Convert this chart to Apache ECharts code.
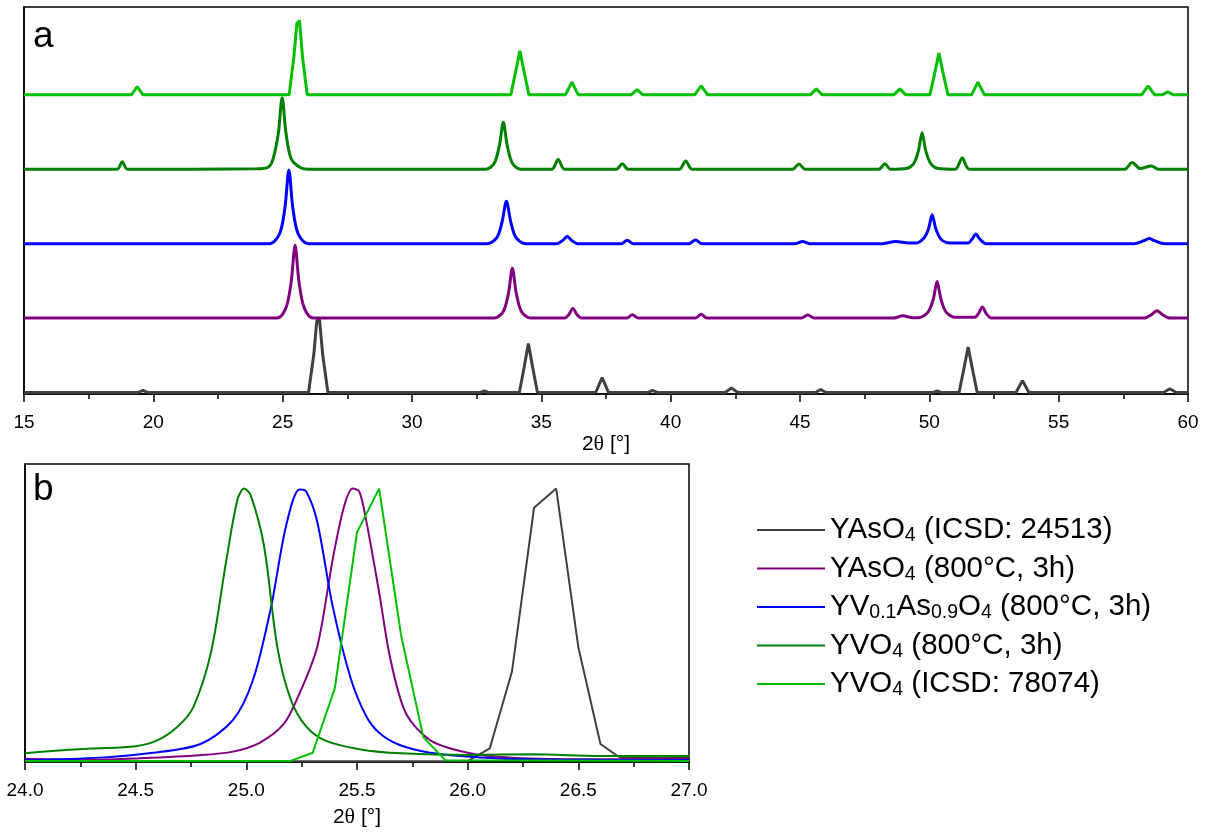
<!DOCTYPE html>
<html><head><meta charset="utf-8">
<script src="https://cdn.jsdelivr.net/npm/echarts@6/dist/echarts.min.js"></script>
<style>html,body{margin:0;padding:0;background:#fff}#c{width:1208px;height:834px}</style>
</head><body><div id="c"></div>
<script>
// ---- names / colours ----
const seriesNames = ['YAsO4 (ICSD: 24513)', 'YAsO4 (800°C, 3h)', 'YV0.1As0.9O4 (800°C, 3h)', 'YVO4 (800°C, 3h)', 'YVO4 (ICSD: 78074)'];
const legendRich = [
  '{n|YAsO}{s|4}{n| (ICSD: 24513)}',
  '{n|YAsO}{s|4}{n| (800°C, 3h)}',
  '{n|YV}{s|0.1}{n|As}{s|0.9}{n|O}{s|4}{n| (800°C, 3h)}',
  '{n|YVO}{s|4}{n| (800°C, 3h)}',
  '{n|YVO}{s|4}{n| (ICSD: 78074)}'
];
const colors = ['#404040', '#800080', '#0000ff', '#008000', '#00c000'];
const measured = [false, true, true, true, false];
const offsets = [0, 1, 2, 3, 4];
const ticksA = [15, 20, 25, 30, 35, 40, 45, 50, 55, 60];
const ticksB = [24.0, 24.5, 25.0, 25.5, 26.0, 26.5, 27.0];

// ---- panel a: normalised patterns (2θ, intensity) ----
const yasRefA = [[15,0.02],[19.4,0.02],[19.6,0.05],[19.8,0.02],
 [26.0,0.02],[26.2,0.52],[26.32,0.98],[26.42,1.02],[26.55,0.52],[26.75,0.02],
 [32.65,0.02],[32.8,0.04],[32.95,0.02],
 [34.15,0.02],[34.33,0.35],[34.5,0.68],[34.67,0.35],[34.85,0.02],
 [37.1,0.02],[37.35,0.22],[37.6,0.02],
 [39.1,0.02],[39.3,0.05],[39.5,0.02],
 [42.1,0.02],[42.35,0.08],[42.6,0.02],
 [45.6,0.02],[45.8,0.06],[46.0,0.02],
 [50.15,0.02],[50.3,0.04],[50.45,0.02],
 [51.15,0.02],[51.33,0.33],[51.5,0.63],[51.67,0.33],[51.85,0.02],
 [53.35,0.02],[53.6,0.18],[53.85,0.02],
 [59.05,0.02],[59.3,0.07],[59.55,0.02],[60,0.02]];
const yas800A = [[15,0.02],[24.78,0.02],[25.13,0.16],[25.33,0.51],[25.48,1.0],[25.63,0.51],[25.83,0.16],[26.18,0.02],
 [33.18,0.02],[33.53,0.11],[33.73,0.355],[33.88,0.69],[34.03,0.355],[34.23,0.11],[34.58,0.02],
 [35.9,0.02],[36.05,0.06],[36.22,0.15],[36.39,0.06],[36.55,0.02],
 [38.3,0.02],[38.52,0.065],[38.75,0.02],
 [40.95,0.02],[41.18,0.07],[41.4,0.02],
 [45.05,0.02],[45.3,0.06],[45.55,0.02],
 [48.6,0.02],[48.97,0.05],[49.35,0.025],
 [49.6,0.025],[49.95,0.1],[50.15,0.27],[50.3,0.51],[50.45,0.27],[50.65,0.1],[51.0,0.03],
 [51.75,0.03],[51.9,0.08],[52.05,0.17],[52.2,0.08],[52.4,0.02],
 [58.3,0.02],[58.6,0.07],[58.8,0.12],[59.0,0.07],[59.3,0.02],[60,0.02]];
const yvasA = [[15,0.02],[24.5,0.02],[24.89,0.16],[25.09,0.51],[25.24,1.01],[25.39,0.51],[25.59,0.16],[25.98,0.02],
 [32.9,0.02],[33.28,0.1],[33.48,0.31],[33.65,0.59],[33.82,0.31],[34.02,0.1],[34.4,0.02],
 [35.6,0.02],[35.85,0.07],[36.0,0.12],[36.15,0.07],[36.4,0.02],
 [38.1,0.02],[38.32,0.065],[38.55,0.02],
 [40.7,0.02],[40.96,0.07],[41.2,0.02],
 [44.8,0.02],[45.1,0.05],[45.4,0.02],
 [48.2,0.02],[48.7,0.05],[49.2,0.03],
 [49.5,0.03],[49.8,0.1],[49.97,0.22],[50.11,0.41],[50.25,0.22],[50.45,0.08],[50.8,0.03],
 [51.5,0.03],[51.65,0.08],[51.8,0.15],[51.95,0.08],[52.2,0.02],
 [57.9,0.02],[58.3,0.06],[58.5,0.09],[58.7,0.06],[59.1,0.02],[60,0.02]];
const yvo800A = [[15,0.02],[18.6,0.02],[18.8,0.12],[19.0,0.02],
 [24.0,0.025],[24.45,0.05],[24.63,0.16],[24.83,0.5],[24.98,0.98],[25.13,0.5],[25.33,0.16],[25.7,0.04],[26.0,0.02],
 [32.85,0.02],[33.18,0.1],[33.38,0.34],[33.53,0.65],[33.68,0.34],[33.88,0.1],[34.2,0.02],
 [35.4,0.02],[35.65,0.15],[35.9,0.02],
 [37.9,0.02],[38.13,0.095],[38.35,0.02],
 [40.33,0.02],[40.58,0.13],[40.83,0.02],
 [44.7,0.02],[44.96,0.09],[45.2,0.02],
 [48.05,0.02],[48.28,0.095],[48.5,0.02],
 [49.1,0.03],[49.4,0.1],[49.58,0.27],[49.72,0.51],[49.86,0.27],[50.05,0.1],[50.35,0.03],
 [51.0,0.02],[51.27,0.17],[51.55,0.02],
 [57.55,0.02],[57.84,0.11],[58.15,0.03],[58.58,0.065],[58.85,0.02],[60,0.02]];
const yvoRefA = [[15,0.02],[19.15,0.02],[19.38,0.13],[19.6,0.02],
 [25.25,0.02],[25.43,0.52],[25.55,0.98],[25.65,1.02],[25.77,0.52],[25.95,0.02],
 [33.82,0.02],[34.0,0.32],[34.17,0.61],[34.34,0.32],[34.52,0.02],
 [35.93,0.02],[36.18,0.19],[36.43,0.02],
 [38.47,0.02],[38.7,0.09],[38.93,0.02],
 [40.93,0.02],[41.18,0.14],[41.43,0.02],
 [45.4,0.02],[45.63,0.1],[45.86,0.02],
 [48.63,0.02],[48.86,0.1],[49.09,0.02],
 [50.02,0.02],[50.2,0.3],[50.37,0.58],[50.54,0.3],[50.72,0.02],
 [51.63,0.02],[51.88,0.19],[52.13,0.02],
 [58.21,0.02],[58.46,0.14],[58.71,0.02],
 [59.0,0.02],[59.22,0.06],[59.44,0.02],[60,0.02]];

// ---- panel b: zoom of the main reflection ----
const yasRefB = [[24.0,0.003],[26.0,0.003],[26.1,0.05],[26.2,0.33],[26.3,0.93],[26.4,1.0],[26.5,0.42],[26.6,0.066],[26.68,0.02],[26.7,0.015],[27.0,0.015]];
const yas800B = [[24.0,0.012],[24.3,0.008],[24.49,0.013],[24.79,0.025],[24.94,0.038],[25.06,0.07],[25.17,0.14],[25.24,0.25],[25.32,0.42],[25.39,0.74],[25.44,0.93],[25.48,1.0],[25.51,0.99],[25.54,0.89],[25.6,0.62],[25.65,0.38],[25.72,0.18],[25.83,0.08],[26.0,0.034],[26.2,0.016],[26.6,0.01],[27.0,0.01]];
const yvasB = [[24.0,0.007],[24.34,0.016],[24.56,0.032],[24.79,0.065],[24.94,0.154],[25.03,0.3],[25.11,0.56],[25.18,0.865],[25.24,0.997],[25.27,0.99],[25.32,0.88],[25.39,0.57],[25.47,0.31],[25.54,0.17],[25.6,0.107],[25.69,0.063],[25.83,0.034],[26.0,0.02],[26.2,0.011],[26.6,0.008],[27.0,0.007]];
const yvo800B = [[24.0,0.032],[24.15,0.042],[24.3,0.049],[24.5,0.058],[24.6,0.08],[24.69,0.13],[24.76,0.2],[24.84,0.4],[24.91,0.74],[24.96,0.96],[24.99,1.0],[25.02,0.975],[25.08,0.79],[25.14,0.42],[25.2,0.23],[25.27,0.13],[25.36,0.077],[25.53,0.044],[25.7,0.032],[26.0,0.026],[26.3,0.028],[26.6,0.022],[27.0,0.022]];
const yvoRefB = [[24.0,0.004],[25.2,0.004],[25.3,0.034],[25.4,0.27],[25.5,0.84],[25.6,1.0],[25.7,0.46],[25.8,0.09],[25.9,0.006],[27.0,0.004]];

const dataA = [yasRefA, yas800A, yvasA, yvo800A, yvoRefA];
const dataB = [yasRefB, yas800B, yvasB, yvo800B, yvoRefB];

const FONT = '"Liberation Sans", Arial, sans-serif';
const axisBase = {
  axisLine: { lineStyle: { color: '#000', width: 1.5 } },
  axisTick: { show: true, inside: false, length: 8, lineStyle: { color: '#000', width: 1.5 } },
  minorTick: { show: true, splitNumber: 2, length: 5, lineStyle: { color: '#000', width: 1.5 } },
  splitLine: { show: false },
  axisLabel: { color: '#000', fontSize: 19, fontFamily: FONT },
  nameLocation: 'middle',
  nameTextStyle: { rich: { a: { fontFamily: FONT, fontSize: 21, color: '#000' }, t: { fontFamily: '"Liberation Serif", serif', fontSize: 22, color: '#000' } } }
};
const yBase = { type: 'value', axisLine: { show: true, lineStyle: { color: '#000', width: 1.5 } }, axisTick: { show: false }, axisLabel: { show: false }, splitLine: { show: false } };

const series = [];
dataA.forEach((d, i) => series.push({
  name: seriesNames[i], type: 'line', xAxisIndex: 0, yAxisIndex: 0, showSymbol: false, symbol: 'none',
  smooth: measured[i] ? 0.3 : false,
  color: colors[i], lineStyle: { width: 3, color: colors[i] }, animation: false,
  data: d.map(p => [p[0], p[1] + offsets[i]])
}));
dataB.forEach((d, i) => series.push({
  name: seriesNames[i], type: 'line', xAxisIndex: 1, yAxisIndex: 1, showSymbol: false, symbol: 'none',
  smooth: measured[i] ? 0.3 : false,
  color: colors[i], lineStyle: { width: 2, color: colors[i] }, animation: false, clip: true,
  data: d
}));

const chart = echarts.init(document.getElementById('c'), null, { renderer: 'canvas' });
chart.setOption({
  backgroundColor: '#fff',
  animation: false,
  grid: [
    { left: 24, right: 20, top: 7, bottom: 440, show: true, borderColor: '#000', borderWidth: 1.5 },
    { left: 25, right: 519, top: 464, bottom: 72, show: true, borderColor: '#000', borderWidth: 1.5 }
  ],
  xAxis: [
    Object.assign({}, axisBase, { type: 'value', gridIndex: 0, min: ticksA[0], max: ticksA[ticksA.length - 1], interval: 5,
      axisLabel: Object.assign({}, axisBase.axisLabel, { margin: 19 }),
      name: '{a|2}{t|θ}{a| [°]}', nameGap: 38 }),
    Object.assign({}, axisBase, { type: 'value', gridIndex: 1, min: ticksB[0], max: ticksB[ticksB.length - 1], interval: 0.5,
      axisLabel: Object.assign({}, axisBase.axisLabel, { margin: 19, formatter: v => v.toFixed(1) }),
      name: '{a|2}{t|θ}{a| [°]}', nameGap: 44 })
  ],
  yAxis: [
    Object.assign({}, yBase, { gridIndex: 0, min: 0, max: 5.2 }),
    Object.assign({}, yBase, { gridIndex: 1, min: 0, max: 1.09 })
  ],
  legend: {
    data: seriesNames, orient: 'vertical', left: 752, top: 510, itemWidth: 68, itemHeight: 2, icon: 'rect', itemGap: 7.5,
    selectedMode: false,
    formatter: name => legendRich[seriesNames.indexOf(name)],
    textStyle: { color: '#000', rich: {
      n: { fontFamily: FONT, fontSize: 29.5, lineHeight: 32, color: '#000' },
      s: { fontFamily: FONT, fontSize: 19.5, lineHeight: 6, verticalAlign: 'bottom', color: '#000' }
    } }
  },
  graphic: [
    { type: 'text', left: 33, top: 18, style: { text: 'a', font: '37px "Liberation Sans", Arial, sans-serif', fill: '#000' } },
    { type: 'text', left: 33, top: 471, style: { text: 'b', font: '37px "Liberation Sans", Arial, sans-serif', fill: '#000' } }
  ],
  series: series
});
</script></body></html>
